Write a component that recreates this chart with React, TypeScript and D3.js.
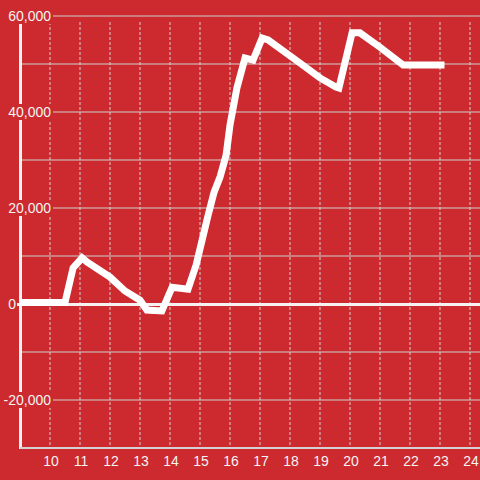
import React from "react";
import * as d3 from "d3";

const xValues = [9.0, 10.5, 10.77, 11.07, 11.23, 12.0, 12.5, 13.0, 13.23, 13.73, 14.07, 14.6, 14.87, 15.07, 15.27, 15.47, 15.67, 15.87, 16.0, 16.23, 16.5, 16.77, 17.07, 17.27, 18.33, 19.0, 19.53, 19.63, 20.07, 20.33, 21.0, 21.77, 23.15];
const yValues = [300, 300, 7500, 9600, 8750, 5600, 2700, 800, -1250, -1450, 3500, 3100, 8100, 13300, 18500, 23300, 26500, 31000, 37300, 45000, 51250, 50800, 55400, 55000, 50200, 47100, 45200, 45000, 56500, 56500, 53500, 49800, 49800];
const xTicks = [10, 11, 12, 13, 14, 15, 16, 17, 18, 19, 20, 21, 22, 23, 24];
const yGrid = [-20000, -10000, 10000, 20000, 30000, 40000, 50000, 60000];
const yLabels = [60000, 40000, 20000, 0, -20000];

const BG = "#cc2a2e";
const GRID = "#d2d2d2";
const TEXT = "#f4f4f4";

export default function App() {
  const W = 480, H = 480;
  const x = d3.scaleLinear().domain([9, 9 + 460 / 30]).range([20, 480]);
  const y = d3.scaleLinear().domain([-30000, 60000]).range([448, 16]);
  const fmt = d3.format(",");
  const data = xValues.map((v, i) => [v, yValues[i]] as [number, number]);
  const line = d3.line<[number, number]>().x(d => x(d[0])).y(d => y(d[1]));
  const labelSet = new Set(yLabels);

  return (
    <div style={{ position: "fixed", left: 0, top: 0 }}>
      <svg width={W} height={H} style={{ display: "block", fontFamily: "'Liberation Sans', Arial, sans-serif" }}>
        <rect x={0} y={0} width={W} height={H} fill={BG} />
        {xTicks.map(t => (
          <line key={"vx" + t} x1={x(t)} x2={x(t)} y1={22} y2={446} stroke={GRID} strokeWidth={1} strokeDasharray="3,2" />
        ))}
        {yGrid.map(t => (
          <line key={"hy" + t} x1={labelSet.has(t) ? 53 : 21} x2={W} y1={y(t)} y2={y(t)} stroke={GRID} strokeWidth={1} />
        ))}
        <line x1={20.5} x2={20.5} y1={y(60000)} y2={449} stroke="#f2f2f2" strokeWidth={3} />
        <line x1={20} x2={W} y1={448} y2={448} stroke={GRID} strokeWidth={2} />
        {yLabels.filter(t => t !== 0).map(t => (
          <rect key={"bg" + t} x={2} y={y(t) - 8} width={51} height={16} fill={BG} />
        ))}
        <line x1={17} x2={W} y1={304.5} y2={304.5} stroke="#f7f2f2" strokeWidth={3} />
        <path d={line(data) || ""} fill="none" stroke="#ffffff" strokeWidth={7} strokeLinejoin="miter" />
        {yLabels.map(t => (
          <text key={"yl" + t} x={t === 0 ? 16 : 51} y={y(t)} dy="0.35em" textAnchor="end" fontSize={14} fill={TEXT}>
            {fmt(t).replace("−", "-")}
          </text>
        ))}
        {xTicks.map(t => (
          <text key={"xl" + t} x={x(t) + 1} y={466} textAnchor="middle" fontSize={14} fill={TEXT}>
            {t}
          </text>
        ))}
      </svg>
    </div>
  );
}
